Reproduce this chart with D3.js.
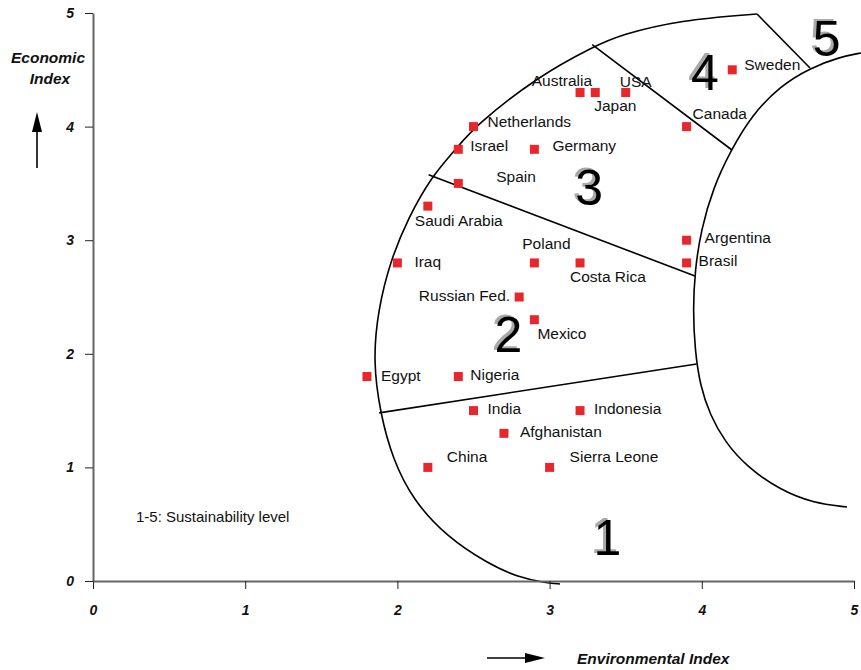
<!DOCTYPE html>
<html>
<head>
<meta charset="utf-8">
<script src="https://cdn.jsdelivr.net/npm/d3@7/dist/d3.min.js"></script>
<style>
  html, body { margin: 0; padding: 0; background: #fff; }
  svg { display: block; font-family: "Liberation Sans", Arial, Helvetica, sans-serif; }
</style>
</head>
<body>
<svg id="chart" width="861" height="670"></svg>
<script>
// Countries and their index scores
const countries = ["Egypt", "Nigeria", "India", "Indonesia", "Afghanistan", "China", "Sierra Leone",
  "Mexico", "Russian Fed.", "Iraq", "Poland", "Costa Rica", "Saudi Arabia", "Spain",
  "Argentina", "Brasil", "Netherlands", "Israel", "Germany", "Australia", "Japan", "USA",
  "Canada", "Sweden"];
const environmentalIndex = [1.8, 2.4, 2.5, 3.2, 2.7, 2.2, 3.0,
  2.9, 2.8, 2.0, 2.9, 3.2, 2.2, 2.4,
  3.9, 3.9, 2.5, 2.4, 2.9, 3.2, 3.3, 3.5,
  3.9, 4.2];
const economicIndex = [1.8, 1.8, 1.5, 1.5, 1.3, 1.0, 1.0,
  2.3, 2.5, 2.8, 2.8, 2.8, 3.3, 3.5,
  3.0, 2.8, 4.0, 3.8, 3.8, 4.3, 4.3, 4.3,
  4.0, 4.5];

const xTicks = [0, 1, 2, 3, 4, 5];
const yTicks = [0, 1, 2, 3, 4, 5];

// Sustainability zone outlines, in index units [environmental, economic]
const outerBoundary = [[3.068, -0.026], [2.983, -0.018], [2.786, 0.035], [2.589, 0.158],
  [2.326, 0.387], [2.102, 0.713], [1.971, 1.065], [1.886, 1.479], [1.840, 1.945],
  [1.873, 2.386], [1.951, 2.808], [2.070, 3.195], [2.227, 3.565], [2.385, 3.803],
  [2.510, 4.005], [2.917, 4.437], [3.298, 4.710], [3.463, 4.806], [3.857, 4.938],
  [4.363, 4.991]];
const innerBoundary = [[5.046, 4.648], [4.908, 4.613], [4.711, 4.516], [4.514, 4.357],
  [4.330, 4.102], [4.192, 3.794], [4.074, 3.460], [3.995, 3.090], [3.955, 2.738],
  [3.942, 2.386], [3.955, 2.033], [3.988, 1.725], [4.054, 1.461], [4.152, 1.224],
  [4.297, 1.004], [4.514, 0.801], [4.730, 0.687], [4.954, 0.651]];
const zoneDividers = [
  [[1.880, 1.480], [3.966, 1.910]],
  [[2.205, 3.576], [3.955, 2.685]],
  [[3.280, 4.722], [4.198, 3.794]],
  [[4.363, 4.991], [4.711, 4.516]]
];
const zoneLabels = ["1", "2", "3", "4", "5"];
const zoneLabelAt = [[3.38, 0.23], [2.73, 2.02], [3.26, 3.31], [4.02, 4.32], [4.82, 4.62]];

// Label placement for each country: offset of text from the marker (px)
const labelPlacement = {
  "Egypt": [14, -1, "start"], "Nigeria": [12, -2, "start"], "India": [14, -2, "start"],
  "Indonesia": [14, -2, "start"], "Afghanistan": [16, -2, "start"], "China": [19, -11, "start"],
  "Sierra Leone": [20, -11, "start"], "Mexico": [3, 14, "start"], "Russian Fed.": [-9, -2, "end"],
  "Iraq": [17, -2, "start"], "Poland": [12, -20, "middle"], "Costa Rica": [-10, 13, "start"],
  "Saudi Arabia": [-13, 14, "start"], "Spain": [38, -7, "start"], "Argentina": [18, -3, "start"],
  "Brasil": [12, -3, "start"], "Netherlands": [14, -5, "start"], "Israel": [12, -4, "start"],
  "Germany": [18, -4, "start"], "Australia": [12, -12, "end"], "Japan": [-1, 13, "start"],
  "USA": [-6, -11, "start"], "Canada": [6, -13, "start"], "Sweden": [12, -5, "start"]
};

const svg = d3.select("#chart");
const x = d3.scaleLinear().domain([0, 5]).range([93, 854]);
const y = d3.scaleLinear().domain([0, 5]).range([581, 13]);

// Zone outlines
const curve = d3.line().x(d => x(d[0])).y(d => y(d[1])).curve(d3.curveBasis);
const straight = d3.line().x(d => x(d[0])).y(d => y(d[1]));
const outlines = svg.append("g").attr("fill", "none").attr("stroke", "#000").attr("stroke-width", 1.6);
outlines.append("path").attr("d", curve(outerBoundary));
outlines.append("path").attr("d", curve(innerBoundary));
outlines.selectAll("path.divider").data(zoneDividers).join("path")
  .attr("class", "divider").attr("d", straight);

// Axes
const xAxis = svg.append("g").attr("transform", `translate(0,${y(0)})`)
  .call(d3.axisBottom(x).tickValues(xTicks).tickFormat(d3.format("d")).tickSize(8).tickSizeOuter(0).tickPadding(16));
const yAxis = svg.append("g").attr("transform", `translate(${x(0)},0)`)
  .call(d3.axisLeft(y).tickValues(yTicks).tickFormat(d3.format("d")).tickSize(8).tickSizeOuter(0).tickPadding(11));
[xAxis, yAxis].forEach(g => {
  g.select(".domain").attr("stroke", "#666").attr("stroke-width", 2);
  g.selectAll(".tick line").attr("stroke", "#222").attr("stroke-width", 1);
  g.selectAll(".tick text").attr("font-family", "'Liberation Sans', Arial, sans-serif")
    .attr("font-size", 14).attr("font-weight", "bold").attr("font-style", "italic").attr("fill", "#111");
});

// Zone numbers with grey drop shadow
const zones = svg.append("g").attr("font-size", 50).attr("text-anchor", "middle");
zones.selectAll("text.shadow").data(zoneLabels).join("text").attr("class", "shadow")
  .attr("x", (d, i) => x(zoneLabelAt[i][0]) - 3).attr("y", (d, i) => y(zoneLabelAt[i][1]) - 2)
  .attr("fill", "#a9a9a9").text(d => d);
zones.selectAll("text.num").data(zoneLabels).join("text").attr("class", "num")
  .attr("x", (d, i) => x(zoneLabelAt[i][0])).attr("y", (d, i) => y(zoneLabelAt[i][1]))
  .attr("fill", "#000").text(d => d);

// Country markers and names
const pts = countries.map((c, i) => ({ name: c, ex: environmentalIndex[i], ec: economicIndex[i] }));
svg.append("g").selectAll("rect").data(pts).join("rect")
  .attr("x", d => x(d.ex) - 4.5).attr("y", d => y(d.ec) - 4.5)
  .attr("width", 9).attr("height", 9).attr("fill", "#e8272d");
svg.append("g").attr("font-size", 15.5).attr("fill", "#111")
  .selectAll("text").data(pts).join("text")
  .attr("x", d => x(d.ex) + labelPlacement[d.name][0])
  .attr("y", d => y(d.ec) + labelPlacement[d.name][1])
  .attr("dy", "0.36em")
  .attr("text-anchor", d => labelPlacement[d.name][2])
  .text(d => d.name);

// Note
svg.append("text").attr("x", 136).attr("y", 517).attr("dy", "0.36em")
  .attr("font-size", 15).attr("fill", "#111").text("1-5: Sustainability level");

// Axis titles and arrows
const titles = svg.append("g").attr("font-size", 15.5).attr("font-weight", "bold").attr("font-style", "italic").attr("fill", "#111");
titles.append("text").attr("x", 48).attr("y", 57).attr("dy", "0.36em").attr("text-anchor", "middle").text("Economic");
titles.append("text").attr("x", 50).attr("y", 78).attr("dy", "0.36em").attr("text-anchor", "middle").text("Index");
titles.append("text").attr("x", 577).attr("y", 658).attr("dy", "0.36em").text("Environmental Index");

svg.append("line").attr("x1", 37).attr("x2", 37).attr("y1", 168).attr("y2", 128).attr("stroke", "#000").attr("stroke-width", 1.6);
svg.append("path").attr("d", "M37,112 L32,132 L42,132 Z").attr("fill", "#000");
svg.append("line").attr("x1", 487).attr("x2", 528).attr("y1", 658).attr("y2", 658).attr("stroke", "#000").attr("stroke-width", 1.6);
svg.append("path").attr("d", "M545,658 L525,653 L525,663 Z").attr("fill", "#000");
</script>
</body>
</html>
